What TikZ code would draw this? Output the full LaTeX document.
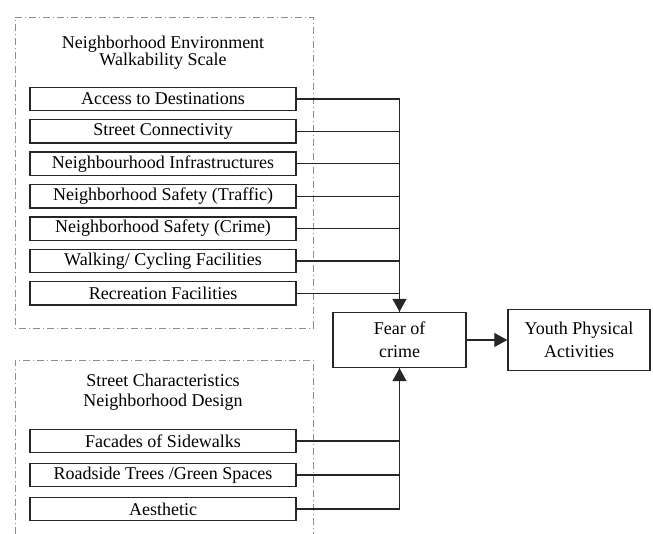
\documentclass[tikz,border=0pt]{standalone}
\usepackage{fontspec}
\setmainfont{Liberation Serif}
\usetikzlibrary{arrows.meta}

\tikzset{
  item/.style={draw=black!85, line width=1.4pt, minimum width=266pt, minimum height=23.5pt, inner sep=0pt, text=black},
  bigbox/.style={draw=black!85, line width=1.4pt, inner sep=0pt, align=center, text=black, font=\fontsize{18}{23}\selectfont},
  frame/.style={draw=black!45, line width=0.8pt, dash pattern=on 7pt off 3pt on 1pt off 3pt},
  link/.style={draw=black!85, line width=1.2pt},
  tip/.style={-{Triangle[length=13pt,width=14pt]}},
  heading/.style={text=black}
}

\begin{document}
\begin{tikzpicture}[x=10pt,y=10pt,font=\fontsize{18}{21}\selectfont]
	\useasboundingbox (0,0) rectangle (65.3,53.4);
%	\draw[step=1,red,very thin] (0,0) grid (65,53);

	% dashed frames
	\draw[frame](1.5,51.7)--(31.3,51.7)--(31.3,20.6)--(1.5,20.6)--cycle;
	\draw[frame](1.5,0)--(1.5,17.4)--(31.3,17.4)--(31.3,0);

	\node[heading] (envA) at(16.3,49.0) {Neighborhood Environment};
	\node[heading] (envB) at(16.3,47.3) {Walkability Scale};

	\node[heading] (strA) at(16.3,15.4) {Street Characteristics};
	\node[heading] (strB) at(16.3,13.2) {Neighborhood Design};

	% walkability items
	\node[item] (access) at(16.3,43.50) {Access to Destinations};
	\node[item] (street) at(16.3,40.26) {Street Connectivity};
	\node[item] (infra)  at(16.3,37.02) {Neighbourhood Infrastructures};
	\node[item] (traffic) at(16.3,33.78) {Neighborhood Safety (Traffic)};
	\node[item] (crime)  at(16.3,30.54) {Neighborhood Safety (Crime)};
	\node[item] (walk)   at(16.3,27.30) {Walking/ Cycling Facilities};
	\node[item] (recr)   at(16.3,24.06) {Recreation Facilities};

	% design items
	\node[item] (facade) at(16.3,9.3) {Facades of Sidewalks};
	\node[item] (trees)  at(16.3,5.9) {Roadside Trees /Green Spaces};
	\node[item] (aesth)  at(16.3,2.5) {Aesthetic};

	% mediator and outcome
	\node[bigbox, minimum width=133pt, minimum height=55pt] (fear) at(39.95,19.4) {Fear of\\crime};
	\node[bigbox, minimum width=142pt, minimum height=61pt] (youth) at(57.9,19.4) {Youth Physical\\Activities};

	\draw[link](access.east) -| (fear.north);
	\draw[link](street.east) -| (fear.north);
	\draw[link](infra.east) -| (fear.north);
	\draw[link](traffic.east) -| (fear.north);
	\draw[link](crime.east) -| (fear.north);
	\draw[link](walk.east) -| (fear.north);
	\draw[link,tip](recr.east) -| (fear.north);

	\draw[link](facade.east) -| (fear.south);
	\draw[link](trees.east) -| (fear.south);
	\draw[link,tip](aesth.east) -| (fear.south);

	\draw[link,tip](fear) -- (youth);
\end{tikzpicture}
\end{document}
